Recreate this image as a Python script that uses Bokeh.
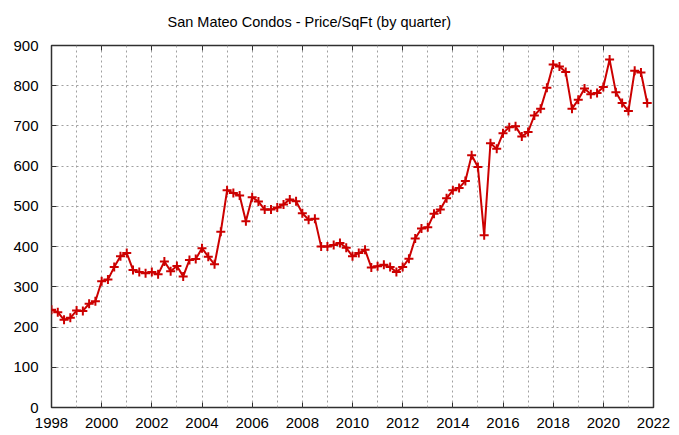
from bokeh.plotting import figure
from bokeh.models import Range1d, FixedTicker, LinearAxis, CustomLabelingPolicy
from bokeh.embed import file_html
from bokeh.resources import INLINE

title_text = "San Mateo Condos - Price/SqFt (by quarter)"
start_year = 1998
# quarterly price per sqft, 1998 Q1 .. 2021 Q4
price = [
    243, 237, 218, 223,   # 1998
    241, 240, 258, 264,   # 1999
    314, 318, 349, 376,   # 2000
    384, 342, 337, 334,   # 2001
    337, 331, 363, 339,   # 2002
    352, 326, 367, 369,   # 2003
    396, 375, 356, 437,   # 2004
    540, 533, 527, 463,   # 2005
    523, 512, 492, 492,   # 2006
    497, 505, 517, 513,   # 2007
    483, 467, 469, 400,   # 2008
    400, 404, 409, 397,   # 2009
    376, 384, 392, 348,   # 2010
    351, 355, 349, 337,   # 2011
    349, 370, 420, 445,   # 2012
    448, 482, 492, 520,   # 2013
    540, 546, 563, 627,   # 2014
    598, 428, 657, 643,   # 2015
    682, 697, 699, 674,   # 2016
    685, 726, 743, 795,   # 2017
    853, 848, 834, 743,   # 2018
    765, 793, 779, 782,   # 2019
    797, 865, 784, 757,   # 2020
    737, 837, 833, 757,   # 2021
]
quarter_x = [start_year + i / 4 for i in range(len(price))]
x_ticks = list(range(1998, 2023, 2))
x_grid = list(range(1998, 2023))
y_ticks = list(range(0, 901, 100))

FONT = "Liberation Sans"
RED = "#cc0000"

p = figure(width=679, height=435,
           min_border_left=51, min_border_right=26,
           min_border_top=45, min_border_bottom=28,
           x_range=Range1d(1998, 2022), y_range=Range1d(0, 900),
           output_backend="svg", toolbar_location=None,
           background_fill_color="white", border_fill_color="white")

p.title.text = title_text
p.title.align = "left"
p.title.offset = 116
p.title.text_font = FONT
p.title.text_font_size = "14.5px"
p.title.text_font_style = "normal"
p.title.text_color = "#000000"
p.title.standoff = 23

p.outline_line_color = "#303030"
p.outline_line_width = 1.5

for ax in (p.xaxis[0], p.yaxis[0]):
    ax.axis_line_color = None
    ax.major_tick_in = 5
    ax.major_tick_out = 0
    ax.major_tick_line_color = "#303030"
    ax.minor_tick_line_color = None
    ax.major_label_text_font = FONT
    ax.major_label_text_font_size = "15px"
    ax.major_label_text_color = "#000000"

p.xaxis.ticker = FixedTicker(ticks=x_ticks)
p.xaxis.major_label_standoff = 10
p.yaxis.ticker = FixedTicker(ticks=y_ticks)
p.yaxis.major_label_standoff = 13

# mirror ticks (no labels)
no_labels = CustomLabelingPolicy(code="return new Set()")
top = LinearAxis(ticker=FixedTicker(ticks=x_ticks))
right = LinearAxis(ticker=FixedTicker(ticks=y_ticks))
for ax in (top, right):
    ax.axis_line_color = None
    ax.major_tick_in = 5
    ax.major_tick_out = 0
    ax.major_tick_line_color = "#303030"
    ax.minor_tick_line_color = None
    ax.major_label_text_font_size = "1px"
    ax.major_label_standoff = 0
    ax.major_label_policy = no_labels
p.add_layout(top, "above")
p.add_layout(right, "right")

p.xgrid.ticker = FixedTicker(ticks=x_grid)
p.ygrid.ticker = FixedTicker(ticks=y_ticks)
for g in (p.xgrid[0], p.ygrid[0]):
    g.grid_line_color = "#a0a0a0"
    g.grid_line_dash = "2 3"
    g.grid_line_width = 1

p.line(quarter_x, price, line_color=RED, line_width=2)
p.scatter(quarter_x, price, marker="cross", size=9, line_color=RED, line_width=2)

open("out.html", "w").write(file_html(p, INLINE))
